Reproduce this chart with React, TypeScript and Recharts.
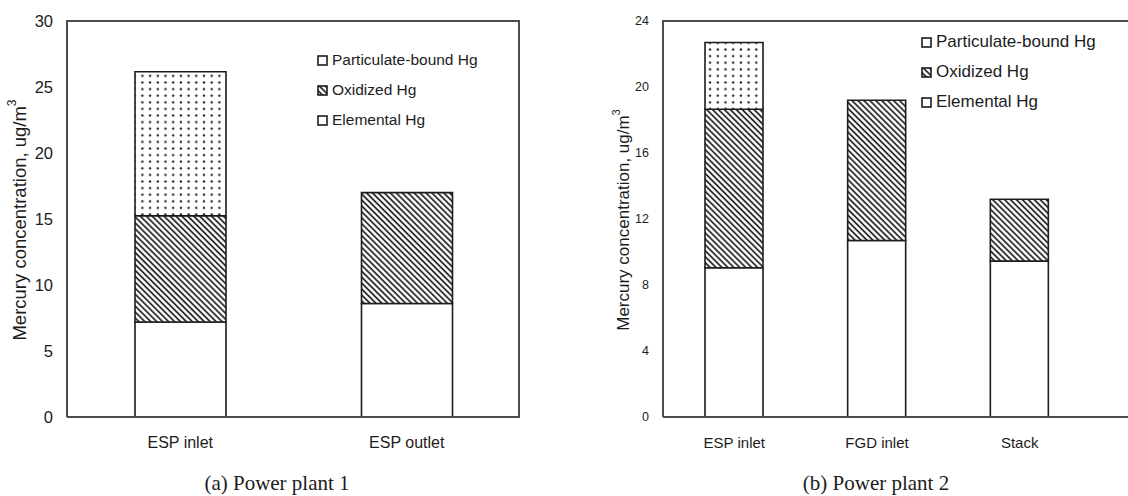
import { BarChart, Bar, XAxis, YAxis, Legend } from "recharts";

// Power plant 1 (ug/m3)
const plant1Sites = ["ESP inlet", "ESP outlet"];
const plant1Elemental = [7.2, 8.6];
const plant1Oxidized = [8.05, 8.4];
const plant1Particulate = [10.9, 0];
const plant1Ticks = [0, 5, 10, 15, 20, 25, 30];

// Power plant 2 (ug/m3)
const plant2Sites = ["ESP inlet", "FGD inlet", "Stack"];
const plant2Elemental = [9.05, 10.7, 9.45];
const plant2Oxidized = [9.6, 8.5, 3.75];
const plant2Particulate = [4.05, 0, 0];
const plant2Ticks = [0, 4, 8, 12, 16, 20, 24];

const seriesNames = ["Elemental Hg", "Oxidized Hg", "Particulate-bound Hg"];

const buildRows = (sites: string[], el: number[], ox: number[], pa: number[]) =>
  sites.map((site, i) => ({
    site,
    elemental: el[i],
    oxidized: ox[i],
    particulate: pa[i],
  }));

const plant1Rows = buildRows(plant1Sites, plant1Elemental, plant1Oxidized, plant1Particulate);
const plant2Rows = buildRows(plant2Sites, plant2Elemental, plant2Oxidized, plant2Particulate);

const INK = "#1c1c1c";
const FRAME = "#4d4d4d";
const SANS = "'Liberation Sans', Arial, sans-serif";

const fillFor = (pid: string, name: string) => {
  if (name === "Oxidized Hg") return `url(#${pid}-hatch)`;
  if (name === "Particulate-bound Hg") return `url(#${pid}-dots)`;
  return "#fff";
};

type PanelProps = {
  pid: string;
  rows: any[];
  ticks: number[];
  width: number;
  marginLeft: number;
  yAxisWidth: number;
  barSize: number;
  padRight: number;
  tickFont: number;
  catFont: number;
  legendFont: number;
  legendLeft: number;
  legendTop: number;
  titleX: number;
  titleFont: number;
};

const Panel = (p: PanelProps) => {
  const renderLegend = (props: any) => {
    const items = [...(props.payload || [])].reverse();
    return (
      <div style={{ fontFamily: SANS, fontSize: p.legendFont, color: INK }}>
        {items.map((item: any) => (
          <div
            key={item.value}
            style={{ height: 30, display: "flex", alignItems: "center", whiteSpace: "nowrap" }}
          >
            <svg width={11} height={11} style={{ marginRight: 4 }}>
              <rect
                x={1}
                y={1}
                width={9}
                height={9}
                fill={item.value === "Oxidized Hg" ? fillFor(p.pid, item.value) : "#fff"}
                stroke={INK}
                strokeWidth={1.6}
              />
            </svg>
            <span>{item.value}</span>
          </div>
        ))}
      </div>
    );
  };

  const yTitle = () => (
    <text
      x={p.titleX}
      y={220}
      transform={`rotate(-90 ${p.titleX} 220)`}
      textAnchor="middle"
      dominantBaseline="central"
      fontFamily={SANS}
      fontSize={p.titleFont}
      fill={INK}
    >
      Mercury concentration, ug/m
      <tspan dy={-7} fontSize={p.titleFont * 0.65}>
        3
      </tspan>
    </text>
  );

  return (
    <BarChart
      width={p.width}
      height={496}
      data={p.rows}
      margin={{ top: 21, right: 0, bottom: 39, left: p.marginLeft }}
    >
      <defs>
        <pattern
          id={`${p.pid}-hatch`}
          patternUnits="userSpaceOnUse"
          width={4.2}
          height={4.2}
          patternTransform="rotate(-45)"
        >
          <rect width={4.2} height={4.2} fill="#fff" />
          <line x1={1} y1={0} x2={1} y2={4.2} stroke="#1e1e1e" strokeWidth={1.7} />
        </pattern>
        <pattern id={`${p.pid}-dots`} patternUnits="userSpaceOnUse" width={7.7} height={6.6}>
          <rect width={7.7} height={6.6} fill="#fff" />
          <circle cx={3.8} cy={3.3} r={1.15} fill="#1a1a1a" />
        </pattern>
      </defs>
      <XAxis
        dataKey="site"
        type="category"
        interval={0}
        height={40}
        padding={{ left: 0, right: p.padRight }}
        axisLine={{ stroke: FRAME, strokeWidth: 2 }}
        tickLine={false}
        tickMargin={14}
        tick={{ fill: INK, fontSize: p.catFont, fontFamily: SANS }}
      />
      <YAxis
        type="number"
        domain={[p.ticks[0], p.ticks[p.ticks.length - 1]]}
        ticks={p.ticks}
        interval={0}
        width={p.yAxisWidth}
        axisLine={{ stroke: FRAME, strokeWidth: 2 }}
        tickLine={false}
        tickMargin={8}
        tick={{ fill: INK, fontSize: p.tickFont, fontFamily: SANS }}
        label={yTitle}
      />
      <Legend
        layout="vertical"
        align="center"
        verticalAlign="middle"
        content={renderLegend}
        wrapperStyle={{ left: p.legendLeft, top: p.legendTop, width: 240 }}
      />
      <Bar
        dataKey="elemental"
        name={seriesNames[0]}
        stackId="hg"
        fill={fillFor(p.pid, seriesNames[0])}
        stroke={INK}
        strokeWidth={1.6}
        barSize={p.barSize}
        isAnimationActive={false}
      />
      <Bar
        dataKey="oxidized"
        name={seriesNames[1]}
        stackId="hg"
        fill={fillFor(p.pid, seriesNames[1])}
        stroke={INK}
        strokeWidth={1.6}
        barSize={p.barSize}
        isAnimationActive={false}
      />
      <Bar
        dataKey="particulate"
        name={seriesNames[2]}
        stackId="hg"
        fill={fillFor(p.pid, seriesNames[2])}
        stroke={INK}
        strokeWidth={1.6}
        barSize={p.barSize}
        isAnimationActive={false}
      />
    </BarChart>
  );
};

const caption: React.CSSProperties = {
  position: "absolute",
  top: 470,
  width: 240,
  textAlign: "center",
  fontFamily: "'Liberation Serif', 'Times New Roman', serif",
  fontSize: 21,
  color: INK,
  lineHeight: "26px",
};

export default function App() {
  return (
    <div
      style={{
        position: "absolute",
        left: 0,
        top: 0,
        width: 1128,
        height: 496,
        overflow: "hidden",
        background: "#fff",
      }}
    >
      {/* (a) Power plant 1 */}
      <div style={{ position: "absolute", left: 0, top: 0, width: 560, height: 496 }}>
        <Panel
          pid="p1"
          rows={plant1Rows}
          ticks={plant1Ticks}
          width={520}
          marginLeft={7}
          yAxisWidth={60}
          barSize={91}
          padRight={0}
          tickFont={16.5}
          catFont={16}
          legendFont={15.5}
          legendLeft={317}
          legendTop={45}
          titleX={19}
          titleFont={18.5}
        />
        {/* top and right edges of the frame */}
        <div
          style={{
            position: "absolute",
            left: 66,
            top: 20,
            width: 454,
            height: 397,
            borderTop: `2px solid ${FRAME}`,
            borderRight: `2px solid ${FRAME}`,
            boxSizing: "border-box",
            pointerEvents: "none",
          }}
        />
        <div style={{ ...caption, left: 157 }}>(a) Power plant 1</div>
      </div>

      {/* (b) Power plant 2 */}
      <div
        style={{
          position: "absolute",
          left: 560,
          top: 0,
          width: 568,
          height: 496,
          overflow: "hidden",
        }}
      >
        <Panel
          pid="p2"
          rows={plant2Rows}
          ticks={plant2Ticks}
          width={620}
          marginLeft={53}
          yAxisWidth={50}
          barSize={58}
          padRight={89}
          tickFont={12.5}
          catFont={15}
          legendFont={17}
          legendLeft={361}
          legendTop={27}
          titleX={63}
          titleFont={17}
        />
        <div
          style={{
            position: "absolute",
            left: 102,
            top: 20,
            width: 520,
            height: 2,
            background: FRAME,
            pointerEvents: "none",
          }}
        />
        <div style={{ ...caption, left: 196 }}>(b) Power plant 2</div>
      </div>
    </div>
  );
}
